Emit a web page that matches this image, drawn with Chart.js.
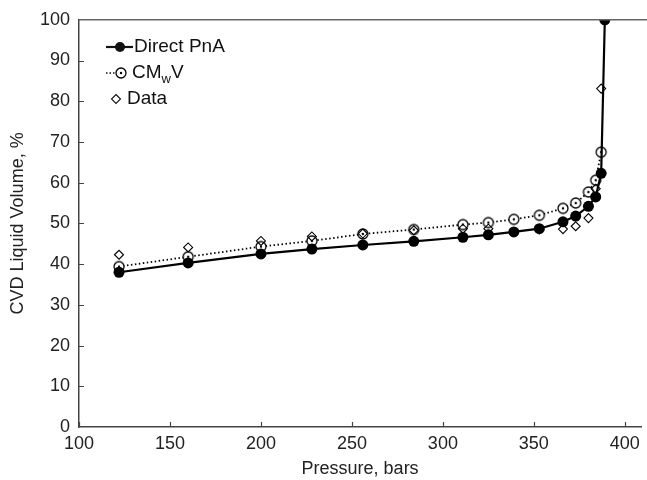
<!DOCTYPE html>
<html>
<head>
<meta charset="utf-8">
<script src="https://cdn.jsdelivr.net/npm/chart.js@4/dist/chart.umd.min.js"></script>
<style>
  html, body { margin: 0; padding: 0; background: #fff; overflow: hidden; }
  #wrap { width: 647px; height: 480px; }
</style>
</head>
<body>
<div id="wrap"><canvas id="myChart" width="647" height="480"></canvas></div>
<script>
// pressures, bars
var pressure = [122, 160, 200, 228, 256, 284, 311, 325, 339, 353, 366, 373, 380, 384, 387, 389];
// Direct PnA
var directPnA = [38.0, 40.3, 42.5, 43.7, 44.7, 45.6, 46.6, 47.2, 47.9, 48.7, 50.4, 51.8, 54.2, 56.5, 62.3, 100];
// CMwV
var cmwvP = [122, 160, 200, 228, 256, 284, 311, 325, 339, 353, 366, 373, 380, 384, 387];
var cmwv = [39.4, 41.8, 44.3, 45.7, 47.4, 48.5, 49.7, 50.2, 51.0, 52.0, 53.7, 55.0, 57.7, 60.6, 67.5];
// measured data
var dataP = [122, 160, 200, 228, 256, 284, 311, 325, 353, 366, 373, 380, 384, 387];
var dataV = [42.3, 44.1, 45.7, 46.8, 47.5, 48.3, 48.7, 48.7, 48.5, 48.6, 49.3, 51.3, 58.5, 83.1];

var xTicks = [100, 150, 200, 250, 300, 350, 400];

function toXY(xs, ys) {
    return xs.map(function (x, i) { return { x: x, y: ys[i] }; });
}

// open circle with a dot in the middle
function dotCircle() {
    var c = document.createElement('canvas');
    c.width = 14; c.height = 14;
    var g = c.getContext('2d');
    g.beginPath();
    g.arc(7, 7, 5, 0, Math.PI * 2);
    g.fillStyle = '#fff';
    g.fill();
    g.lineWidth = 1.3;
    g.strokeStyle = '#000';
    g.stroke();
    g.beginPath();
    g.arc(7, 7, 1.2, 0, Math.PI * 2);
    g.fillStyle = '#000';
    g.fill();
    return c;
}
var circImg = dotCircle();

var FONT = '"Liberation Sans", Arial, sans-serif';

// inward ticks, top border and legend
var decor = {
    id: 'decor',
    afterDraw: function (chart) {
        var ctx = chart.ctx, a = chart.chartArea;
        var xs = chart.scales.x, ys = chart.scales.y;
        ctx.save();
        ctx.strokeStyle = '#444';
        ctx.lineWidth = 1.2;
        ctx.beginPath();
        xTicks.forEach(function (v) {
            var px = Math.round(xs.getPixelForValue(v)) + 0.5;
            ctx.moveTo(px, a.bottom);
            ctx.lineTo(px, a.bottom - 5);
        });
        for (var v = 10; v < 100; v += 10) {
            var py = Math.round(ys.getPixelForValue(v)) + 0.5;
            ctx.moveTo(a.left, py);
            ctx.lineTo(a.left + 5, py);
        }
        ctx.stroke();
        // top border
        ctx.strokeStyle = '#666';
        ctx.lineWidth = 1.5;
        ctx.beginPath();
        ctx.moveTo(a.left, a.top);
        ctx.lineTo(647, a.top);
        ctx.stroke();

        // legend
        ctx.fillStyle = '#111';
        ctx.strokeStyle = '#111';
        ctx.font = '19px ' + FONT;
        ctx.textBaseline = 'middle';
        // Direct PnA
        ctx.lineWidth = 2.2;
        ctx.setLineDash([]);
        ctx.beginPath();
        ctx.moveTo(106, 47); ctx.lineTo(133, 47);
        ctx.stroke();
        ctx.beginPath();
        ctx.arc(120, 47, 5, 0, Math.PI * 2);
        ctx.fill();
        ctx.fillText('Direct PnA', 134, 47);
        // CMwV
        ctx.lineWidth = 1.4;
        ctx.setLineDash([1.5, 2]);
        ctx.beginPath();
        ctx.moveTo(106, 73); ctx.lineTo(116, 73);
        ctx.stroke();
        ctx.setLineDash([]);
        ctx.drawImage(circImg, 121 - 7, 73 - 7);
        ctx.fillText('CM', 132, 73);
        var w1 = ctx.measureText('CM').width;
        ctx.font = '13px ' + FONT;
        ctx.fillText('w', 132 + w1, 79);
        var w2 = ctx.measureText('w').width;
        ctx.font = '19px ' + FONT;
        ctx.fillText('V', 132 + w1 + w2, 73);
        // Data
        ctx.lineWidth = 1.1;
        ctx.beginPath();
        ctx.moveTo(116, 94.5); ctx.lineTo(120.5, 99); ctx.lineTo(116, 103.5); ctx.lineTo(111.5, 99);
        ctx.closePath();
        ctx.stroke();
        ctx.fillText('Data', 127, 99);
        ctx.restore();
    }
};

var ctx = document.getElementById('myChart').getContext('2d');
var myChart = new Chart(ctx, {
    type: 'scatter',
    data: {
        datasets: [
        // measured data
        {
            label: 'Data',
            data: toXY(dataP, dataV),
            showLine: false,
            pointStyle: 'rectRot',
            pointRadius: 4.5,
            pointBorderWidth: 1.1,
            pointBorderColor: '#000',
            pointBackgroundColor: 'rgba(255,255,255,0)',
            order: 1
        },
        // CMwV
        {
            label: 'CMwV',
            data: toXY(cmwvP, cmwv),
            showLine: true,
            borderColor: '#000',
            borderWidth: 1.8,
            borderDash: [1.5, 2.5],
            pointStyle: circImg,
            order: 3
        },
        // Direct PnA
        {
            label: 'Direct PnA',
            data: toXY(pressure, directPnA),
            showLine: true,
            borderColor: '#000',
            borderWidth: 2.2,
            pointStyle: 'circle',
            pointRadius: 5.5,
            pointBorderWidth: 0,
            pointBackgroundColor: '#000',
            order: 2
        }
    ]
    },
    plugins: [decor],
    options: {
        responsive: false,
        animation: false,
        layout: { padding: { top: 18, right: 1, left: 0, bottom: 0 } },
        plugins: {
            legend: { display: false },
            tooltip: { enabled: false }
        },
        scales: {
            x: {
                type: 'linear',
                min: 100,
                max: 409,
                afterBuildTicks: function (axis) {
                    axis.ticks = xTicks.map(function (v) { return { value: v }; });
                },
                afterFit: function (axis) { axis.height = 53; },
                grid: { display: false, drawTicks: false },
                border: { color: '#444', width: 1.5 },
                ticks: {
                    color: '#222',
                    padding: 6,
                    maxRotation: 0,
                    autoSkip: false,
                    font: { family: FONT, size: 18 }
                },
                title: {
                    display: true,
                    text: 'Pressure, bars',
                    color: '#222',
                    padding: { top: 10, bottom: 0 },
                    font: { family: FONT, size: 18 }
                }
            },
            y: {
                min: 0,
                max: 100,
                afterFit: function (axis) { axis.width = 79; },
                grid: { display: false, drawTicks: false },
                border: { color: '#444', width: 1.5 },
                ticks: {
                    stepSize: 10,
                    color: '#222',
                    padding: 9,
                    font: { family: FONT, size: 18 }
                },
                title: {
                    display: true,
                    text: 'CVD Liquid Volume, %',
                    color: '#222',
                    padding: { top: 7, bottom: 0 },
                    font: { family: FONT, size: 18 }
                }
            }
        }
    }
});
</script>
</body>
</html>
